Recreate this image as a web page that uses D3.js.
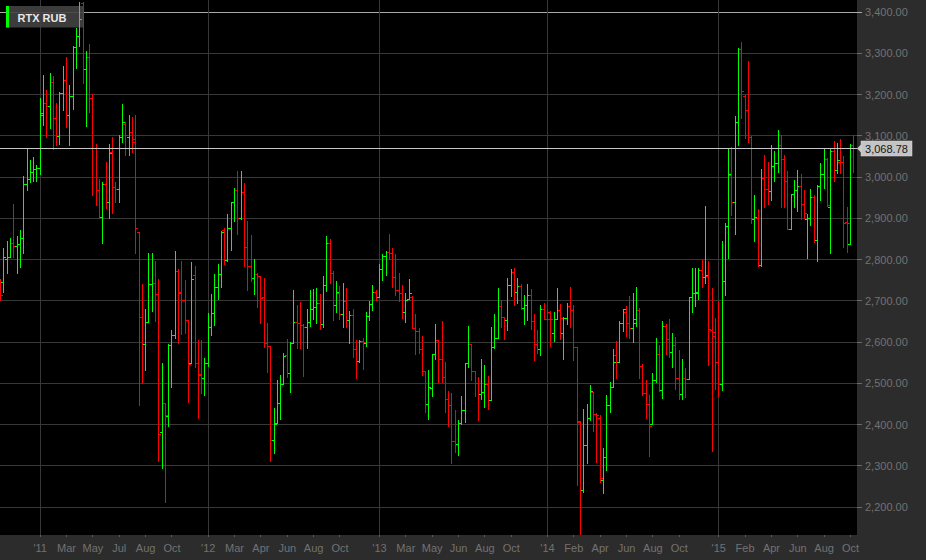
<!DOCTYPE html>
<html><head><meta charset="utf-8">
<script src="https://cdn.jsdelivr.net/npm/d3@7"></script>
<style>html,body{margin:0;padding:0;background:#2c2c2c;} svg{display:block;}</style>
</head><body>
<svg id="chart" width="926" height="560"></svg>
<script>
// Weekly OHLC, RTX index in RUB
const open = [2748,2745,2800,2806,2838,2832,2836,2850,2982,2995,3010,3017,3020,3150,3177,3170,3229,3141,3097,3202,
3234,3149,3194,3313,3340,3420,3260,3289,3190,3068,2967,2903,2983,2939,3060,2975,2969,3095,3128,3095,
3109,3090,2866,2660,2595,2648,2739,2741,2714,2380,2450,2420,2591,2616,2771,2721,2701,2652,2549,2761,
2547,2519,2511,2547,2634,2670,2733,2763,2870,2797,2876,2937,2967,2899,2963,2830,2783,2755,2764,2759,
2709,2597,2589,2361,2402,2450,2497,2567,2523,2596,2647,2644,2640,2634,2648,2680,2684,2693,2642,2737,
2840,2765,2689,2717,2666,2698,2652,2664,2583,2553,2601,2597,2662,2691,2719,2709,2776,2808,2816,2814,
2756,2726,2717,2672,2702,2709,2632,2625,2583,2529,2448,2487,2569,2604,2557,2515,2460,2446,2359,2351,
2403,2434,2547,2594,2529,2500,2472,2477,2497,2458,2586,2608,2687,2660,2652,2737,2768,2719,2735,2682,
2688,2712,2650,2594,2583,2678,2655,2672,2620,2655,2676,2620,2656,2687,2676,2586,2406,2240,2348,2414,
2478,2425,2414,2264,2321,2446,2489,2567,2551,2646,2672,2646,2632,2644,2676,2541,2474,2448,2399,2507,
2569,2482,2638,2605,2575,2592,2511,2472,2512,2509,2709,2717,2717,2773,2757,2759,2628,2622,2551,2497,
2747,2881,3004,2939,3131,3309,3194,3161,3095,2898,2900,2786,2996,2969,2966,3026,3032,3076,3042,2989,
2873,2957,2967,2977,2933,2898,2900,2951,2846,2978,3006,3042,2927,3062,3016,3036,3034,2890,2836,3077];
const high = [2751,2827,2844,2852,2933,2856,2870,3001,3068,3040,3048,3028,3190,3246,3210,3250,3244,3177,3205,3268,
3290,3222,3316,3359,3424,3424,3304,3321,3200,3080,2995,2987,3036,3080,3095,2987,3101,3176,3133,3149,
3145,3149,2866,2739,2680,2814,2814,2794,2751,2549,2450,2595,2629,2819,2775,2795,2749,2652,2793,2783,
2604,2604,2559,2670,2715,2764,2788,2868,2874,2909,2937,2973,3013,3013,2985,2893,2858,2799,2766,2760,
2755,2644,2589,2438,2507,2520,2573,2606,2600,2725,2689,2695,2642,2679,2725,2727,2730,2715,2759,2856,
2849,2771,2747,2735,2743,2730,2674,2680,2604,2604,2609,2671,2699,2737,2725,2788,2812,2819,2861,2827,
2812,2765,2737,2718,2752,2710,2667,2632,2613,2529,2531,2569,2642,2604,2650,2550,2480,2474,2434,2410,
2468,2547,2638,2594,2529,2515,2557,2543,2517,2636,2667,2729,2701,2660,2755,2775,2777,2755,2740,2713,
2739,2727,2666,2628,2689,2693,2678,2674,2671,2729,2691,2659,2693,2731,2689,2586,2407,2436,2449,2495,
2478,2426,2422,2341,2470,2501,2582,2602,2650,2680,2685,2710,2718,2731,2682,2546,2507,2470,2523,2608,
2592,2650,2643,2655,2620,2612,2579,2558,2535,2707,2777,2777,2777,2798,2929,2796,2729,2656,2697,2844,
2887,3066,3071,3147,3311,3325,3198,3280,3097,2954,2921,3018,3052,3036,3077,3063,3113,3101,3052,3014,
2958,2992,3016,3006,2967,2909,2970,2955,2980,3032,3066,3044,3066,3086,3082,3091,3050,2925,3078,3101];
const low = [2700,2720,2765,2804,2804,2765,2780,2814,2967,2987,2990,2990,3007,3125,3096,3117,3066,3076,3079,3161,
3121,3076,3163,3262,3316,3226,3122,3157,2955,2931,2899,2838,2923,2899,2911,2939,2939,3084,3052,3052,
3060,2814,2446,2500,2531,2648,2674,2650,2311,2293,2212,2394,2490,2609,2597,2618,2621,2454,2547,2537,
2415,2474,2470,2540,2616,2640,2703,2733,2787,2795,2822,2893,2861,2897,2784,2725,2747,2715,2684,2646,
2587,2527,2311,2329,2402,2411,2496,2515,2478,2596,2585,2585,2516,2585,2638,2655,2644,2630,2634,2723,
2743,2652,2671,2655,2636,2636,2596,2563,2511,2551,2533,2590,2652,2676,2701,2707,2749,2761,2800,2731,
2713,2697,2658,2648,2702,2632,2569,2571,2520,2430,2411,2469,2558,2503,2503,2428,2396,2306,2333,2325,
2400,2406,2537,2507,2469,2410,2460,2442,2437,2458,2585,2608,2636,2606,2628,2710,2689,2693,2678,2642,
2652,2630,2555,2571,2567,2655,2652,2588,2602,2654,2606,2558,2642,2636,2554,2252,2133,2234,2306,2410,
2384,2309,2260,2232,2289,2428,2489,2512,2551,2626,2613,2608,2600,2638,2512,2470,2415,2323,2399,2503,
2481,2464,2570,2562,2539,2485,2460,2461,2466,2509,2672,2685,2702,2733,2741,2543,2335,2485,2469,2483,
2713,2803,2907,2861,3077,3141,3094,3084,2887,2844,2784,2784,2927,2933,2943,2990,3012,2925,2927,2872,
2873,2927,2917,2896,2899,2803,2882,2841,2795,2943,2971,2929,2815,2988,3008,3008,2830,2818,2836,3012];
const close = [2712,2804,2806,2838,2832,2836,2850,2982,2995,3010,3017,3020,3155,3177,3170,3229,3141,3097,3202,3234,
3149,3194,3313,3340,3383,3260,3289,3190,3068,2967,2903,2983,2939,3056,2975,2969,3095,3133,3100,3109,
3084,2874,2660,2595,2648,2739,2741,2714,2375,2450,2422,2591,2616,2771,2718,2701,2652,2545,2751,2547,
2521,2511,2547,2635,2670,2733,2763,2866,2797,2876,2937,2967,2899,2963,2830,2783,2755,2764,2759,2705,
2597,2589,2361,2400,2452,2497,2565,2523,2596,2647,2644,2640,2634,2648,2680,2683,2693,2642,2737,2840,
2765,2689,2721,2666,2698,2652,2664,2583,2553,2601,2598,2662,2691,2719,2709,2776,2808,2816,2814,2756,
2726,2717,2672,2701,2717,2632,2625,2583,2529,2448,2489,2569,2604,2557,2515,2460,2446,2359,2351,2403,
2434,2547,2594,2529,2500,2472,2477,2497,2458,2586,2608,2687,2660,2652,2737,2768,2719,2735,2682,2688,
2712,2650,2594,2583,2678,2655,2654,2655,2655,2676,2656,2656,2687,2676,2586,2407,2240,2348,2414,2481,
2424,2423,2268,2321,2446,2489,2551,2551,2646,2680,2646,2632,2654,2676,2541,2474,2448,2394,2507,2569,
2482,2638,2605,2575,2592,2511,2472,2511,2509,2707,2717,2719,2773,2757,2761,2630,2613,2551,2497,2747,
2881,3006,2939,3131,3309,3207,3161,3095,2898,2901,2786,2996,2969,2966,3026,3032,3076,3042,2989,2873,
2957,2967,2977,2933,2911,2900,2951,2846,2978,3006,3042,2931,3062,3016,3040,3034,2888,2887,3077,3068.78];

// x-axis ticks (bar index) and labels
const tickIndex = [12,20,28,36,44,52, 63,71,79,87,95,103, 115,123,131,139,147,155, 166,174,182,190,198,206, 218,226,234,242,250,258];
const tickLabel = ["'11","Mar","May","Jul","Aug","Oct", "'12","Mar","Apr","Jun","Aug","Oct", "'13","Mar","May","Jun","Aug","Oct",
                   "'14","Feb","Apr","Jun","Aug","Oct", "'15","Feb","Apr","Jun","Aug","Oct"];
// y-axis ticks
const yTicks = [2200,2300,2400,2500,2600,2700,2800,2900,3000,3100,3200,3300,3400];
const seriesName = "RTX RUB";

const W = 926, H = 560, plotW = 857, plotH = 535;
const FONT = "'Liberation Sans', Arial, sans-serif";
const svg = d3.select('#chart');
svg.append('rect').attr('width', W).attr('height', H).attr('fill', '#2c2c2c');
svg.append('rect').attr('width', plotW).attr('height', plotH).attr('fill', '#000');

const x = d3.scaleLinear().domain([0, open.length - 1]).range([0.2, 853.3]);
const y = d3.scaleLinear().domain([2200, 3400]).range([506.5, 11.5]);
const px = v => Math.round(v) + 0.5;

svg.append('defs').append('clipPath').attr('id', 'clip')
  .append('rect').attr('width', plotW).attr('height', plotH);

// horizontal grid + right axis
const gGrid = svg.append('g').attr('shape-rendering', 'crispEdges');
gGrid.selectAll('line.h').data(yTicks).join('line')
  .attr('x1', 0).attr('x2', plotW)
  .attr('y1', d => px(y(d))).attr('y2', d => px(y(d)))
  .attr('stroke', d => d === 3400 ? '#a9a9a9' : '#383838');
gGrid.selectAll('line.rt').data(yTicks).join('line')
  .attr('x1', plotW).attr('x2', plotW + 5)
  .attr('y1', d => px(y(d))).attr('y2', d => px(y(d)))
  .attr('stroke', d => d === 3400 ? '#a9a9a9' : '#6a6a6a');
svg.append('g').selectAll('text').data(yTicks).join('text')
  .attr('x', 865).attr('y', d => y(d) + 4.5)
  .attr('font-family', FONT).attr('font-size', 11).attr('fill', '#727272')
  .text(d => d3.format(',.2f')(d));

// vertical grid at year ticks
const yearIdx = tickIndex.filter((d, i) => tickLabel[i].startsWith("'"));
gGrid.selectAll('line.v').data(yearIdx).join('line')
  .attr('x1', d => px(x(d))).attr('x2', d => px(x(d)))
  .attr('y1', 0).attr('y2', plotH)
  .attr('stroke', '#383838');

// bottom axis
gGrid.selectAll('line.bt').data(tickIndex).join('line')
  .attr('x1', d => px(x(d))).attr('x2', d => px(x(d)))
  .attr('y1', plotH).attr('y2', plotH + 2)
  .attr('stroke', '#5a5a5a');
svg.append('g').selectAll('text').data(tickIndex).join('text')
  .attr('x', d => x(d) + 0.5).attr('y', 551.5)
  .attr('text-anchor', 'middle')
  .attr('font-family', FONT).attr('font-size', 11).attr('fill', '#727272')
  .text((d, i) => tickLabel[i]);

// legend box
svg.append('rect').attr('x', 6).attr('y', 6).attr('width', 77).attr('height', 21.5)
  .attr('fill', 'rgba(66,66,66,0.9)');
svg.append('rect').attr('x', 6).attr('y', 6).attr('width', 3).attr('height', 21.5).attr('fill', '#00ff00');
svg.append('text').attr('x', 17.5).attr('y', 22).attr('font-family', FONT).attr('font-size', 11)
  .attr('font-weight', 'bold').attr('fill', '#e8e8e8').text(seriesName);

// OHLC bars
const idx = d3.range(open.length);
const gBars = svg.append('g').attr('clip-path', 'url(#clip)').attr('shape-rendering', 'crispEdges');
const col = i => close[i] > open[i] ? '#00ff00' : '#ff0000';
const bar = gBars.selectAll('g').data(idx).join('g').attr('fill', col);
bar.append('rect')
  .attr('x', i => Math.round(x(i))).attr('width', 1)
  .attr('y', i => Math.round(y(high[i])))
  .attr('height', i => Math.max(1, Math.round(y(low[i])) - Math.round(y(high[i])) + 1));
bar.append('rect')
  .attr('x', i => Math.round(x(i)) - 2).attr('width', 2)
  .attr('y', i => Math.round(y(open[i]))).attr('height', 1);
bar.append('rect')
  .attr('x', i => Math.round(x(i)) + 1).attr('width', 2)
  .attr('y', i => Math.round(y(close[i]))).attr('height', 1);

// last price line and label
const last = close[close.length - 1];
const ly = px(y(last));
svg.append('line').attr('x1', 0).attr('x2', plotW).attr('y1', ly).attr('y2', ly)
  .attr('stroke', '#c8c8c8').attr('shape-rendering', 'crispEdges');
svg.append('path')
  .attr('d', `M${plotW},${ly} L${plotW + 4},${ly - 4} L${plotW + 4},${ly + 4} Z`)
  .attr('fill', '#c4c4c4');
svg.append('rect').attr('x', 861).attr('y', ly - 7.5).attr('width', 51).attr('height', 15)
  .attr('fill', '#c4c4c4').attr('stroke', '#dcdcdc').attr('stroke-width', 0.5);
svg.append('text').attr('x', 886.5).attr('y', ly + 4).attr('text-anchor', 'middle')
  .attr('font-family', FONT).attr('font-size', 11).attr('fill', '#141414')
  .text(d3.format(',.2f')(last));
</script>
</body></html>
